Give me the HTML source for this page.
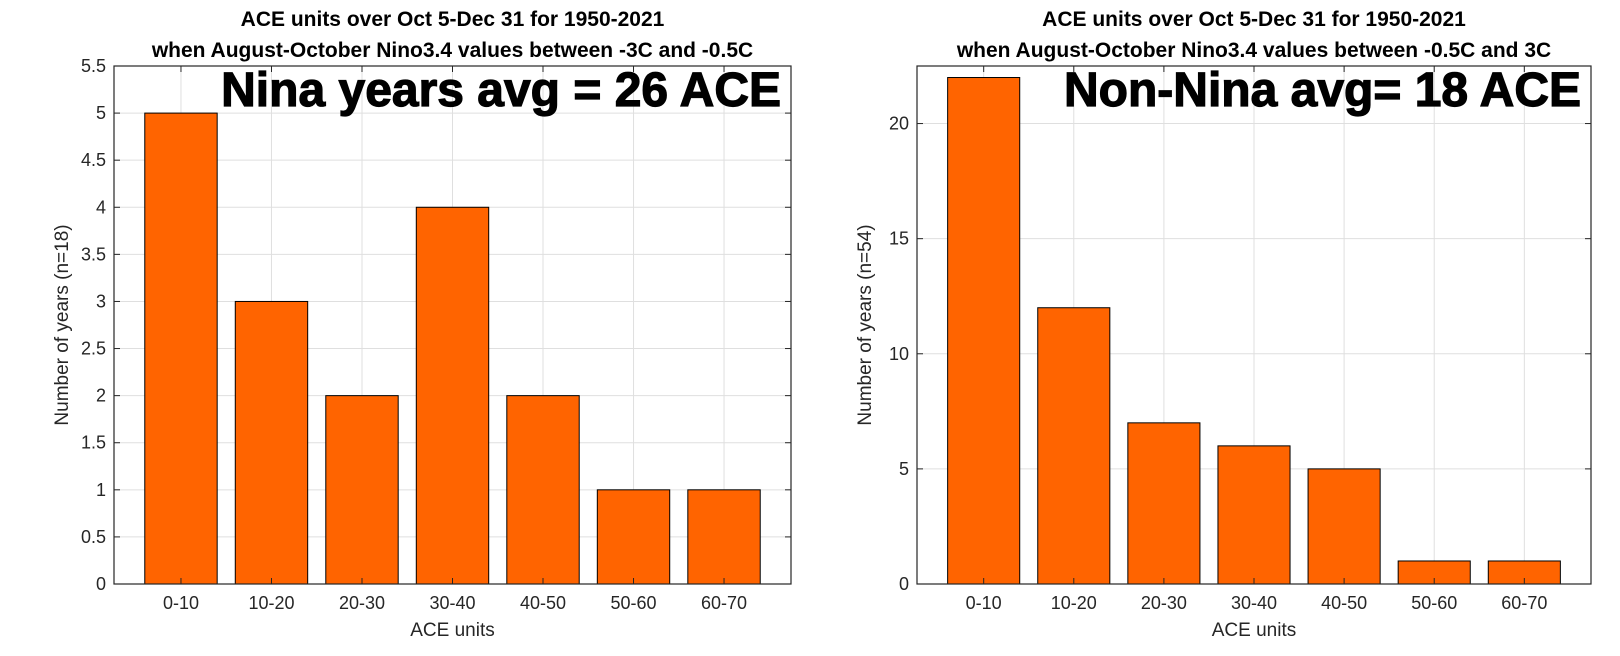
<!DOCTYPE html>
<html><head><meta charset="utf-8"><style>
body{margin:0;background:#fff}
svg{display:block;font-family:"Liberation Sans",Arial,sans-serif}
</style></head><body>
<svg id="s" width="1620" height="656"></svg>
<script>
const categories=["0-10","10-20","20-30","30-40","40-50","50-60","60-70"];
const ninaValues=[5,3,2,4,2,1,1];
const nonNinaValues=[22,12,7,6,5,1,1];
const ninaTicks=[0,0.5,1,1.5,2,2.5,3,3.5,4,4.5,5,5.5];
const nonNinaTicks=[0,5,10,15,20];
const NS="http://www.w3.org/2000/svg";
const svg=document.getElementById('s');
function mk(t,a,p,txt){const e=document.createElementNS(NS,t);for(const k in a)e.setAttribute(k,a[k]);if(txt!==undefined)e.textContent=txt;(p||svg).appendChild(e);return e;}
function panel(name,L,R,T,B,ymax,vals,ticks,t1,t2,big,ytitle){
  const g=mk('g',{});
  
  
  const n=categories.length,pad=0.74;
  const xs=i=>L+(i+pad)*(R-L)/(n-1+2*pad);
  const ys=v=>B-v*(B-T)/ymax;
  const uw=(R-L)/(n-1+2*pad);
  ticks.forEach(v=>{const l=mk('line',{x1:L,x2:R,y1:ys(v),y2:ys(v),stroke:'#dfdfdf','stroke-width':1},g);});
  categories.forEach((c,i)=>{const l=mk('line',{x1:xs(i),x2:xs(i),y1:T,y2:B,stroke:'#dfdfdf','stroke-width':1},g);});
  vals.forEach((v,i)=>{const r=mk('rect',{x:xs(i)-0.4*uw,y:ys(v),width:0.8*uw,height:B-ys(v),fill:'#ff6400',stroke:'#000','stroke-width':1},g);});
  ticks.forEach(v=>{mk('line',{x1:L,x2:L+6,y1:ys(v),y2:ys(v),stroke:'#262626'},g);mk('line',{x1:R,x2:R-6,y1:ys(v),y2:ys(v),stroke:'#262626'},g);
    const t=mk('text',{x:L-8,y:ys(v)+6,'text-anchor':'end','font-size':18,fill:'#262626'},g,String(v));});
  categories.forEach((c,i)=>{mk('line',{x1:xs(i),x2:xs(i),y1:B,y2:B-6,stroke:'#262626'},g);mk('line',{x1:xs(i),x2:xs(i),y1:T,y2:T+6,stroke:'#262626'},g);
    const t=mk('text',{x:xs(i),y:B+25,'text-anchor':'middle','font-size':18,fill:'#262626'},g,c);});
  const bx=mk('rect',{x:L,y:T,width:R-L,height:B-T,fill:'none',stroke:'#262626','stroke-width':1.2},g);
  
  const cx=(L+R)/2;
  let e=mk('text',{x:cx,y:26,'text-anchor':'middle','font-size':21,'font-weight':'bold'},g,t1);
  e=mk('text',{x:cx,y:57,'text-anchor':'middle','font-size':21,'font-weight':'bold'},g,t2);
  e=mk('text',{x:R-10,y:106,'text-anchor':'end','font-size':48,'font-weight':'bold',stroke:'#000','stroke-width':1.2},g,big);
  e=mk('text',{x:cx,y:636,'text-anchor':'middle','font-size':19,fill:'#262626'},g,'ACE units');
  e=mk('text',{x:0,y:0,'text-anchor':'middle','font-size':19,fill:'#262626',transform:`translate(${L-46},${(T+B)/2}) rotate(-90)`},g,ytitle);
}
panel('nina-panel',114,791,66,584,5.5,ninaValues,ninaTicks,'ACE units over Oct 5-Dec 31 for 1950-2021','when August-October Nino3.4 values between -3C and -0.5C','Nina years avg = 26 ACE','Number of years (n=18)');
panel('non-nina-panel',917,1591,66,584,22.5,nonNinaValues,nonNinaTicks,'ACE units over Oct 5-Dec 31 for 1950-2021','when August-October Nino3.4 values between -0.5C and 3C','Non-Nina avg= 18 ACE','Number of years (n=54)');
</script>
</body></html>
